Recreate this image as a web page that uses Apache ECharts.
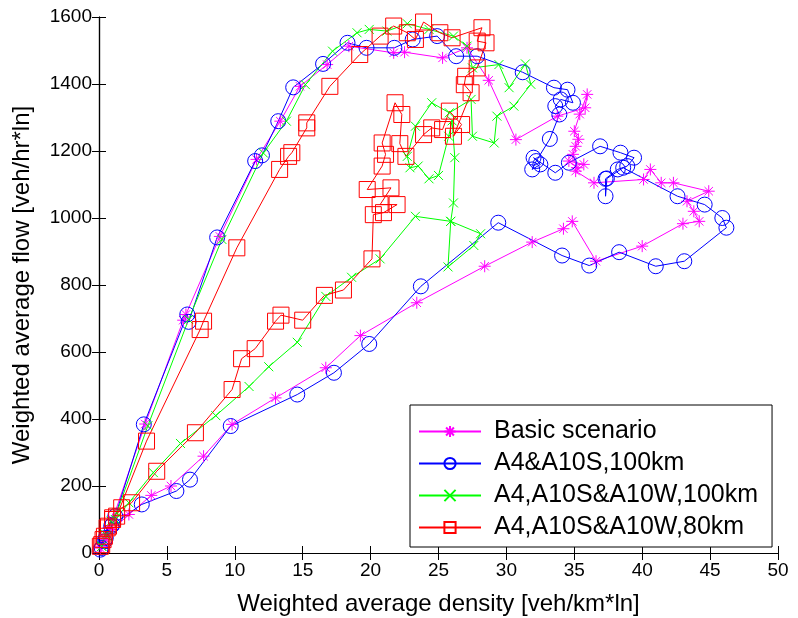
<!DOCTYPE html>
<html>
<head>
<meta charset="utf-8">
<script src="https://cdn.jsdelivr.net/npm/echarts@6/dist/echarts.min.js"></script>
<style>
  html, body { margin: 0; padding: 0; background: #fff; }
  #chart { width: 798px; height: 618px; }
</style>
</head>
<body>
<div id="chart"></div>
<script>
// Weighted average density [veh/km*ln] vs weighted average flow [veh/hr*ln]
const seriesNames = ['Basic scenario', 'A4&A10S,100km', 'A4,A10S&A10W,100km', 'A4,A10S&A10W,80km'];

const basicScenario = [
  [0.1,15],[0.4,45],[0.7,75],[1.0,100],[3.4,385],[6.2,695],[6.4,712],[8.9,945],[11.6,1175],
  [13.35,1289],[14.8,1393],[16.8,1458],[18.4,1513],[21.7,1493],[22.5,1495],[25.3,1478],[27.1,1508],
  [28.7,1411],[30.7,1234],[33.75,1304],[35.8,1329],[35.95,1369],[35.4,1310],[35.0,1259],[35.3,1235],
  [35.1,1214],[34.9,1190],[35.2,1150],[34.6,1170],[35.7,1160],[35.1,1140],[36.45,1105],[40.1,1115],
  [40.6,1145],[41.4,1105],[42.3,1105],[44.9,1080],[43.3,1050],[43.8,1020],[44.2,990],[43.0,983],
  [40.0,916],[36.6,871],[34.85,990],[34.2,968],[31.9,928],[28.4,856],[23.4,747],[19.25,649],
  [16.7,553],[13.0,463],[9.8,384],[7.7,289],[5.3,200],[3.85,172],[2.2,115],[1.0,70],[0.5,40],[0.2,20]
];

const a4A10s100 = [
  [0.2,15],[0.5,45],[0.9,80],[1.2,110],[3.3,384],[6.5,712],[6.6,690],[8.7,942],[11.5,1170],
  [12.0,1187],[13.2,1289],[14.3,1390],[16.5,1460],[18.3,1523],[19.7,1508],[21.75,1508],[23.1,1533],
  [24.9,1543],[26.3,1483],[27.85,1483],[31.2,1435],[33.5,1389],[34.5,1383],[34.9,1344],[34.0,1354],
  [33.6,1334],[33.9,1309],[33.2,1236],[32.2,1170],[31.9,1145],[32.5,1160],[32.0,1180],[33.6,1135],
  [34.6,1165],[36.9,1214],[38.4,1195],[39.4,1180],[38.9,1155],[38.2,1145],[37.3,1117],[37.3,1065],
  [37.4,1118],[38.6,1150],[42.6,1065],[44.6,1040],[45.9,1000],[46.2,971],[43.1,871],[41.0,856],
  [38.3,898],[36.1,858],[34.1,888],[29.4,986],[23.7,796],[19.9,624],[17.3,538],[14.6,473],
  [9.7,379],[6.7,219],[5.7,185],[3.15,145],[1.0,85],[0.4,35],[0.1,10]
];

const a4A10sA10w100 = [
  [0.2,20],[0.5,55],[0.9,95],[1.3,120],[3.6,380],[6.6,697],[9.05,936],[12.1,1194],[13.8,1289],
  [15.2,1398],[17.2,1498],[19.0,1553],[19.9,1563],[21.2,1558],[22.7,1580],[24.3,1563],[26.1,1543],
  [27.1,1513],[27.5,1448],[29.45,1458],[30.2,1389],[31.4,1460],[31.8,1399],[30.55,1334],[29.3,1304],
  [29.1,1224],[27.5,1244],[27.4,1354],[25.8,1314],[24.5,1344],[23.3,1274],[22.7,1184],[22.9,1150],
  [23.5,1155],[24.3,1117],[25.0,1127],[25.75,1244],[26.0,1290],[26.2,1180],[26.1,1045],[25.9,990],
  [25.7,854],[27.6,918],[28.1,953],[25.9,990],[23.3,1005],[20.7,878],[18.6,823],[16.7,766],
  [14.6,629],[12.5,556],[11.05,497],[8.6,410],[6.0,327],[4.0,240],[2.2,150],[1.2,100],[0.6,50],[0.2,20]
];

const a4A10sA10w80 = [
  [0.1,20],[0.3,40],[0.6,75],[1.0,100],[1.3,110],[3.5,334],[7.45,667],[7.7,692],[10.15,911],
  [13.3,1145],[13.96,1184],[14.2,1195],[15.3,1269],[15.3,1284],[17.0,1393],[19.2,1488],[20.7,1543],
  [21.7,1573],[22.7,1553],[23.3,1533],[23.9,1585],[25.1,1553],[26.0,1538],[28.2,1568],[27.85,1528],
  [28.5,1523],[27.85,1448],[27.0,1423],[26.9,1398],[27.4,1374],[26.1,1244],[26.7,1279],[25.8,1319],
  [25.3,1264],[24.5,1269],[23.9,1249],[22.6,1184],[22.15,1222],[22.3,1309],[21.8,1344],[20.85,1224],
  [21.1,1190],[20.85,1155],[19.75,1085],[21.5,1090],[20.7,1040],[21.95,1040],[20.95,1016],[20.2,1010],
  [20.1,878],[18.0,785],[16.6,769],[15.0,695],[13.4,710],[13.0,692],[11.5,610],[10.5,580],[9.8,488],
  [7.1,359],[4.25,244],[2.4,150],[1.67,135],[1.0,105],[0.7,80],[0.4,50],[0.2,25]
];

const xTicks = { min: 0, max: 50, interval: 5 };
const yTicks = { min: 0, max: 1600, interval: 200 };

const FONT = '"Liberation Sans", Arial, sans-serif';

const asterisk = 'path://M10,0L10,20M0,10L20,10M3,3L17,17M3,17L17,3';
const cross = 'path://M0,0L10,10M0,10L10,0';

function makeSeries(name, data, color, symbol, size) {
  return {
    name, type: 'line', data,
    xAxisIndex: 0, yAxisIndex: 0,
    symbol, symbolSize: size,
    showAllSymbol: true,
    lineStyle: { color, width: 1 },
    itemStyle: { color: 'rgba(0,0,0,0)', borderColor: color, borderWidth: 1 },
    emphasis: { disabled: true },
    z: 2
  };
}

const tickStyle = { show: true, inside: true, length: 7, lineStyle: { color: '#000', width: 1 } };
const lineStyleAxis = { show: true, lineStyle: { color: '#000', width: 1.2 } };
const plain = v => String(v);

const chart = echarts.init(document.getElementById('chart'), null, { renderer: 'canvas' });
chart.setOption({
  animation: false,
  backgroundColor: '#fff',
  grid: { left: 99, right: 20, top: 17, bottom: 65, containLabel: false, outerBoundsMode: 'none' },
  xAxis: [
    {
      type: 'value', position: 'bottom', ...xTicks,
      axisLine: lineStyleAxis, axisTick: tickStyle, splitLine: { show: false },
      axisLabel: { color: '#000', fontSize: 19, fontFamily: FONT, margin: 8, formatter: plain },
      name: 'Weighted average density [veh/km*ln]', nameLocation: 'middle', nameGap: 39,
      nameTextStyle: { color: '#000', fontSize: 24, fontFamily: FONT }
    },
    {
      type: 'value', position: 'top', ...xTicks,
      axisLine: lineStyleAxis, axisTick: tickStyle, splitLine: { show: false },
      axisLabel: { show: false }
    }
  ],
  yAxis: [
    {
      type: 'value', position: 'left', ...yTicks,
      axisLine: lineStyleAxis, axisTick: tickStyle, splitLine: { show: false },
      axisLabel: { color: '#000', fontSize: 19, fontFamily: FONT, margin: 7, formatter: plain },
      name: 'Weighted average flow [veh/hr*ln]', nameLocation: 'middle', nameGap: 65,
      nameTextStyle: { color: '#000', fontSize: 24, fontFamily: FONT }
    },
    {
      type: 'value', position: 'right', ...yTicks,
      axisLine: lineStyleAxis, axisTick: tickStyle, splitLine: { show: false },
      axisLabel: { show: false }
    }
  ],
  legend: {
    orient: 'vertical', left: 410, top: 405,
    itemWidth: 62, itemHeight: 14, itemGap: 7,
    padding: [14, 14, 7, 8],
    borderColor: '#000', borderWidth: 1, backgroundColor: '#fff',
    selectedMode: false,
    textStyle: { color: '#000', fontSize: 25, fontFamily: FONT, padding: [0, 0, 0, 8] },
    data: seriesNames
  },
  series: [
    makeSeries(seriesNames[0], basicScenario, '#ff00ff', asterisk, 12),
    makeSeries(seriesNames[1], a4A10s100, '#0000ff', 'circle', 15),
    makeSeries(seriesNames[2], a4A10sA10w100, '#00ff00', cross, 9),
    makeSeries(seriesNames[3], a4A10sA10w80, '#ff0000', 'rect', 16)
  ]
});
</script>
</body>
</html>
